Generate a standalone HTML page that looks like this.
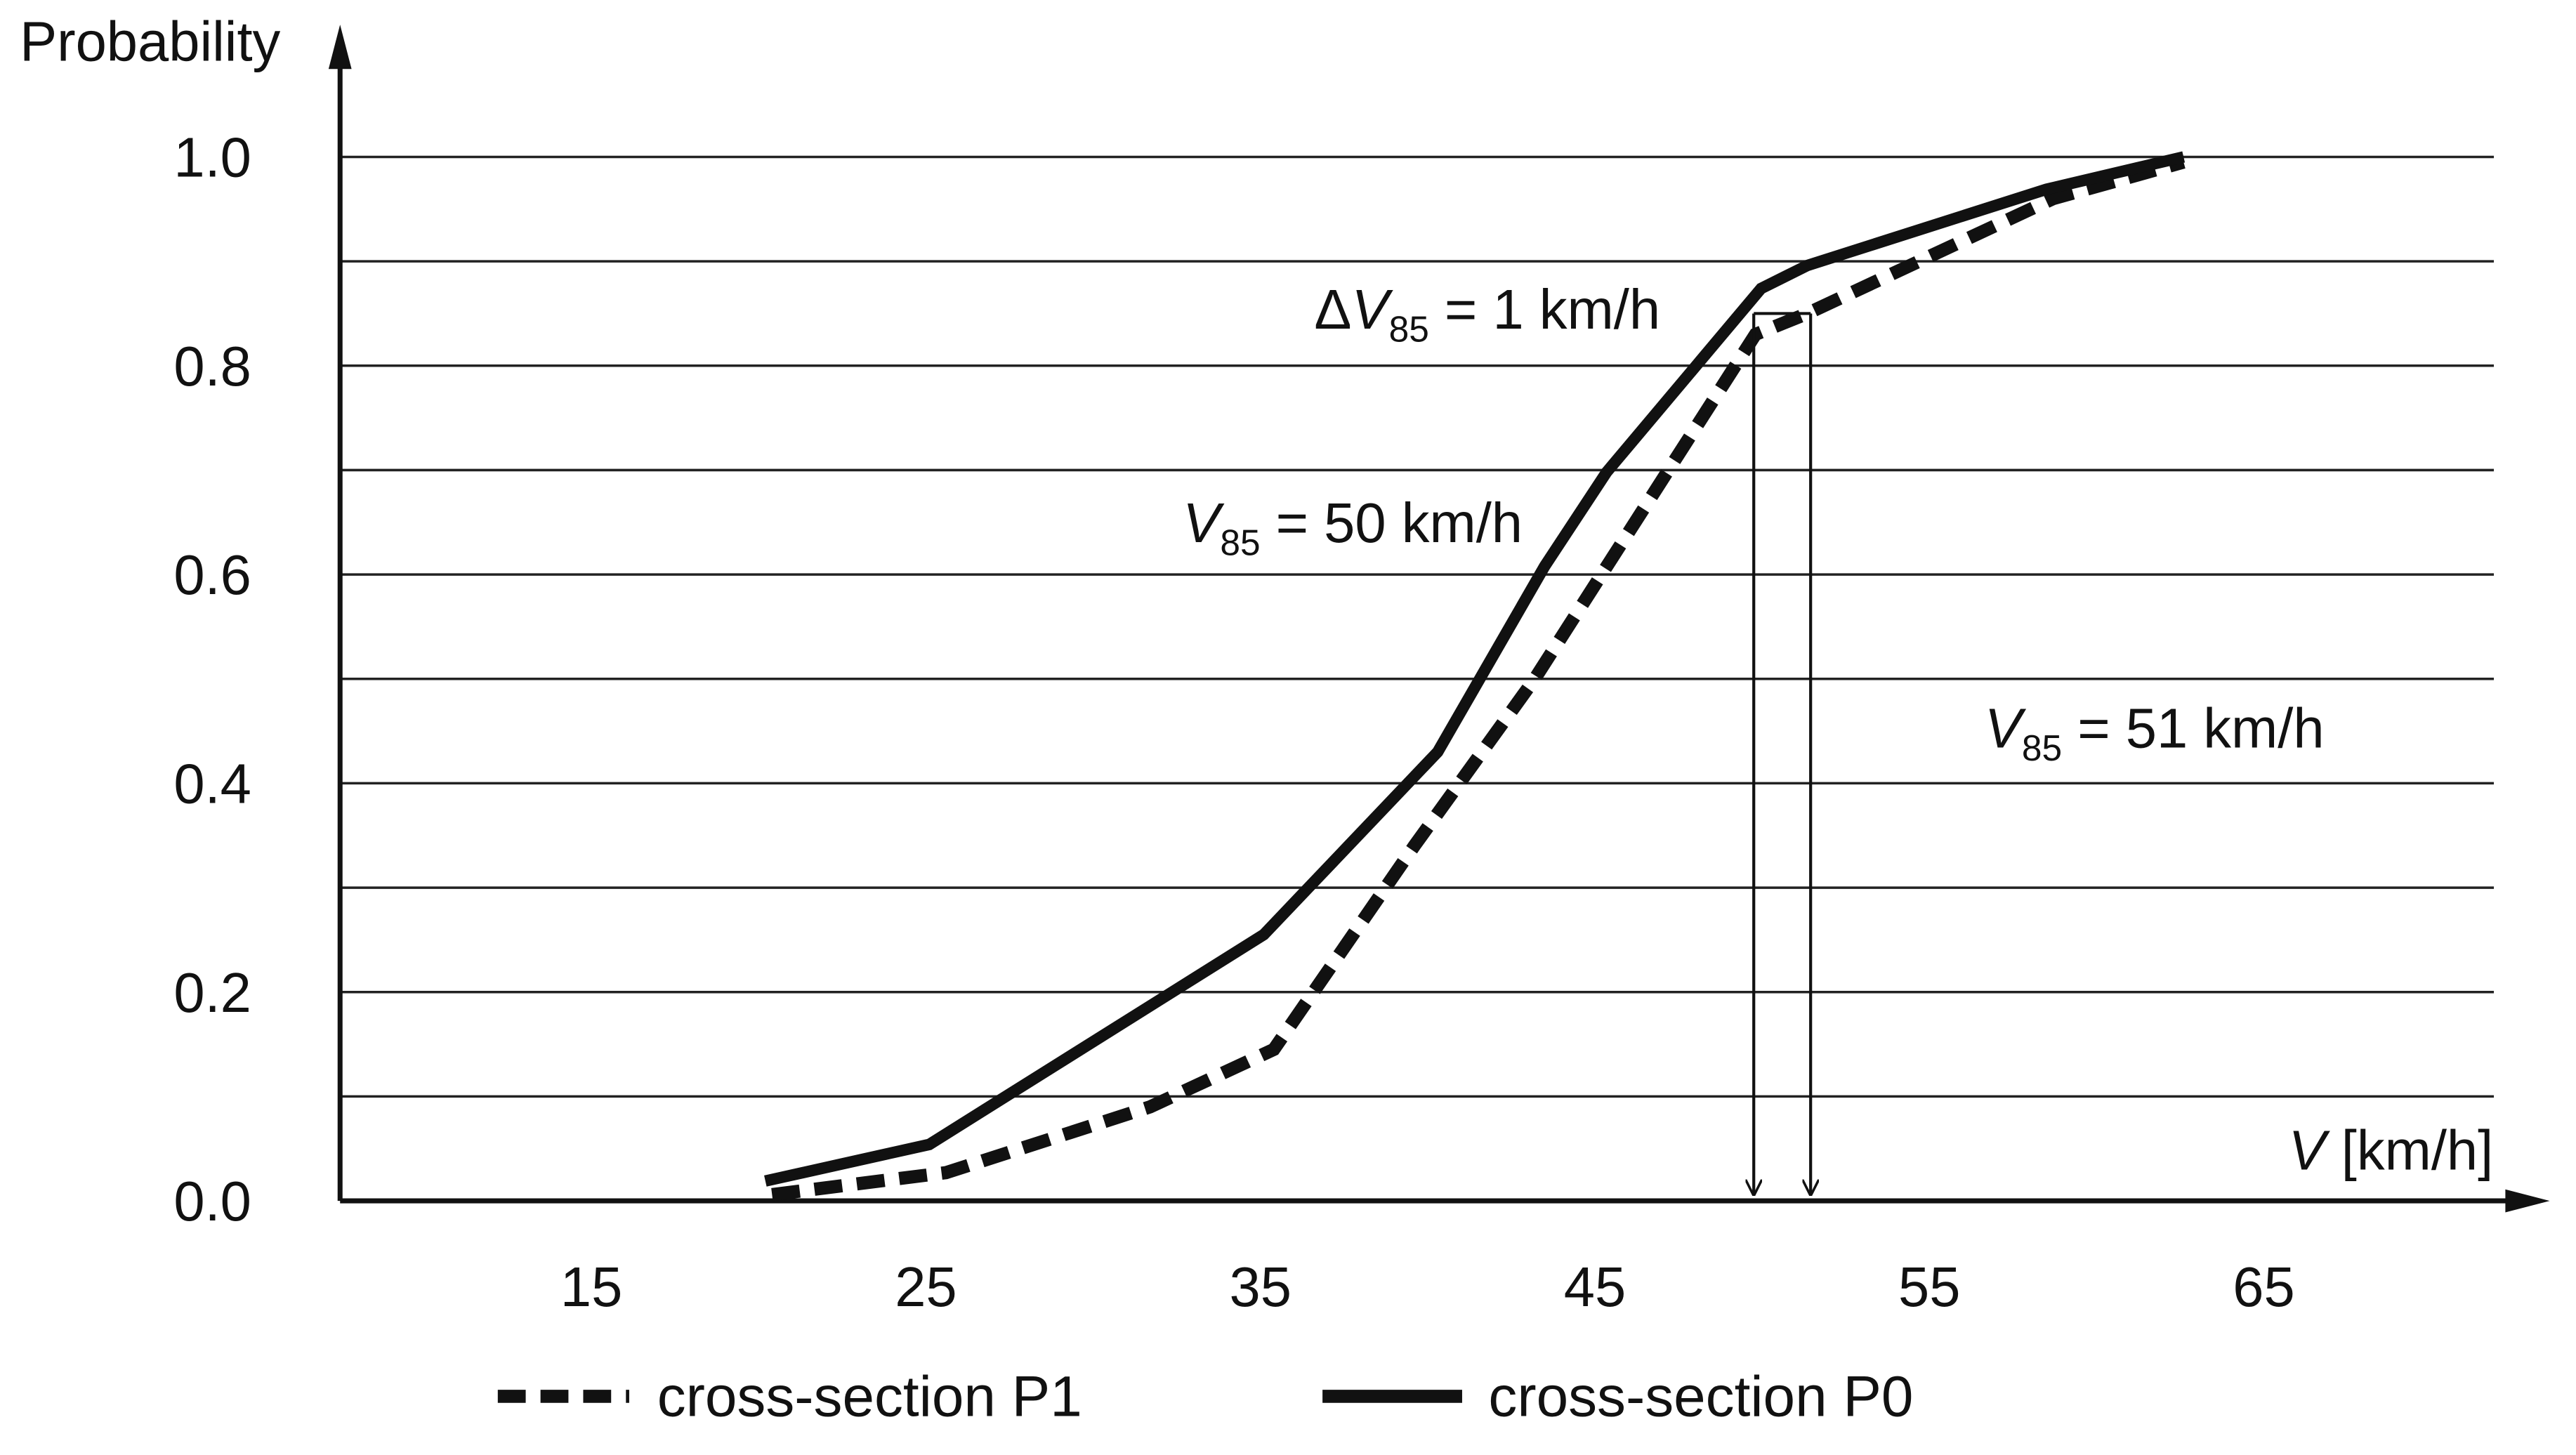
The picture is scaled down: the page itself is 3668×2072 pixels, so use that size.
<!DOCTYPE html>
<html><head><meta charset="utf-8"><style>html,body{margin:0;padding:0;background:#fff}svg{display:block}text{font-family:"Liberation Sans",Arial,sans-serif;fill:#111}</style></head>
<body>
<svg id="chart" width="3668" height="2072" viewBox="0 0 1568 885.7" xmlns="http://www.w3.org/2000/svg">
<defs><marker id="ah" markerWidth="10" markerHeight="10" refX="9" refY="5" orient="auto" markerUnits="userSpaceOnUse"><path d="M0,0 L10,5 L0,10" fill="none" stroke="#111" stroke-width="1.5"/></marker></defs>
<g id="grid"></g>
<g id="axes">
<line x1="207" y1="731" x2="207" y2="22" stroke="#111" stroke-width="3"/>
<path d="M200,42 L207,15 L214,42 Z" fill="#111"/>
<line x1="207" y1="731" x2="1540" y2="731" stroke="#111" stroke-width="3"/>
<path d="M1525,724 L1552,731 L1525,738 Z" fill="#111"/>
</g>
<text x="12" y="37" font-size="34">Probability</text>
<text x="1393" y="712" font-size="34"><tspan font-style="italic">V</tspan> [km/h]</text>
<g id="ticks"></g>
<g id="series"></g>
<g id="annot"></g>
<text x="800" y="200" font-size="34">Δ<tspan font-style="italic">V</tspan><tspan font-size="22" dy="8">85</tspan><tspan dy="-8"> = 1 km/h</tspan></text>
<text x="720" y="330" font-size="34"><tspan font-style="italic">V</tspan><tspan font-size="22" dy="8">85</tspan><tspan dy="-8"> = 50 km/h</tspan></text>
<text x="1208" y="455" font-size="34"><tspan font-style="italic">V</tspan><tspan font-size="22" dy="8">85</tspan><tspan dy="-8"> = 51 km/h</tspan></text>
<g>
<line x1="303" y1="850" x2="383" y2="850" stroke="#111" stroke-width="8" stroke-dasharray="17,9"/>
<text x="400" y="862" font-size="35">cross-section P1</text>
<line x1="805" y1="850" x2="890" y2="850" stroke="#111" stroke-width="8"/>
<text x="906" y="862" font-size="35">cross-section P0</text>
</g>
</svg>
<script>
const xTicks = [15, 25, 35, 45, 55, 65];
const yTicks = [0.0, 0.2, 0.4, 0.6, 0.8, 1.0];
const gridVals = [0.1, 0.2, 0.3, 0.4, 0.5, 0.6, 0.7, 0.8, 0.9, 1.0];
const p0Speed = [20.2, 25.1, 35.1, 40.3, 43.5, 45.35, 49.97, 51.35, 58.5, 62.6];
const p0Prob = [0.019, 0.054, 0.255, 0.43, 0.608, 0.698, 0.874, 0.896, 0.969, 1.0];
const p1Speed = [20.4, 25.6, 31.7, 35.4, 39.6, 43.2, 45.2, 49.8, 51.35, 58.7, 62.6];
const p1Prob = [0.006, 0.027, 0.09, 0.145, 0.34, 0.5, 0.6, 0.83, 0.85, 0.96, 0.995];
const v85 = [49.75, 51.45];
const v85Prob = 0.85;
const NS = "http://www.w3.org/2000/svg";
const X = v => 360 + (v - 15) * 20.36;
const Y = p => 731 - p * 635.5;
function mk(tag, attrs, parent){const e=document.createElementNS(NS,tag);for(const k in attrs)e.setAttribute(k,attrs[k]);parent.appendChild(e);return e;}
const grid=document.getElementById('grid');
gridVals.forEach(g=>{const l=mk('line',{x1:207,x2:1518,y1:Y(g),y2:Y(g),stroke:'#222','stroke-width':1.5},grid);

});
const ticks=document.getElementById('ticks');
xTicks.forEach(v=>{const t=mk('text',{x:X(v),y:795,'font-size':34,'text-anchor':'middle'},ticks);t.textContent=v;

});
yTicks.forEach(v=>{const t=mk('text',{x:153,y:Y(v)+12,'font-size':34,'text-anchor':'end'},ticks);t.textContent=v.toFixed(1);

});
const ser=document.getElementById('series');
const d0=p0Speed.map((v,i)=>(i?'L':'M')+X(v)+','+Y(p0Prob[i])).join(' ');
const d1=p1Speed.map((v,i)=>(i?'L':'M')+X(v)+','+Y(p1Prob[i])).join(' ');
const l1=mk('path',{d:d1,fill:'none',stroke:'#111','stroke-width':8,'stroke-dasharray':'17,9'},ser);


const l0=mk('path',{d:d0,fill:'none',stroke:'#111','stroke-width':7,'stroke-linejoin':'miter'},ser);


const an=document.getElementById('annot');
v85.forEach(v=>{const a=mk('line',{x1:X(v),x2:X(v),y1:Y(v85Prob),y2:727,stroke:'#111','stroke-width':1.8,'marker-end':'url(#ah)'},an);

});
const h=mk('line',{x1:X(v85[0]),x2:X(v85[1]),y1:Y(v85Prob),y2:Y(v85Prob),stroke:'#111','stroke-width':1.8},an);


</script>
</body></html>
